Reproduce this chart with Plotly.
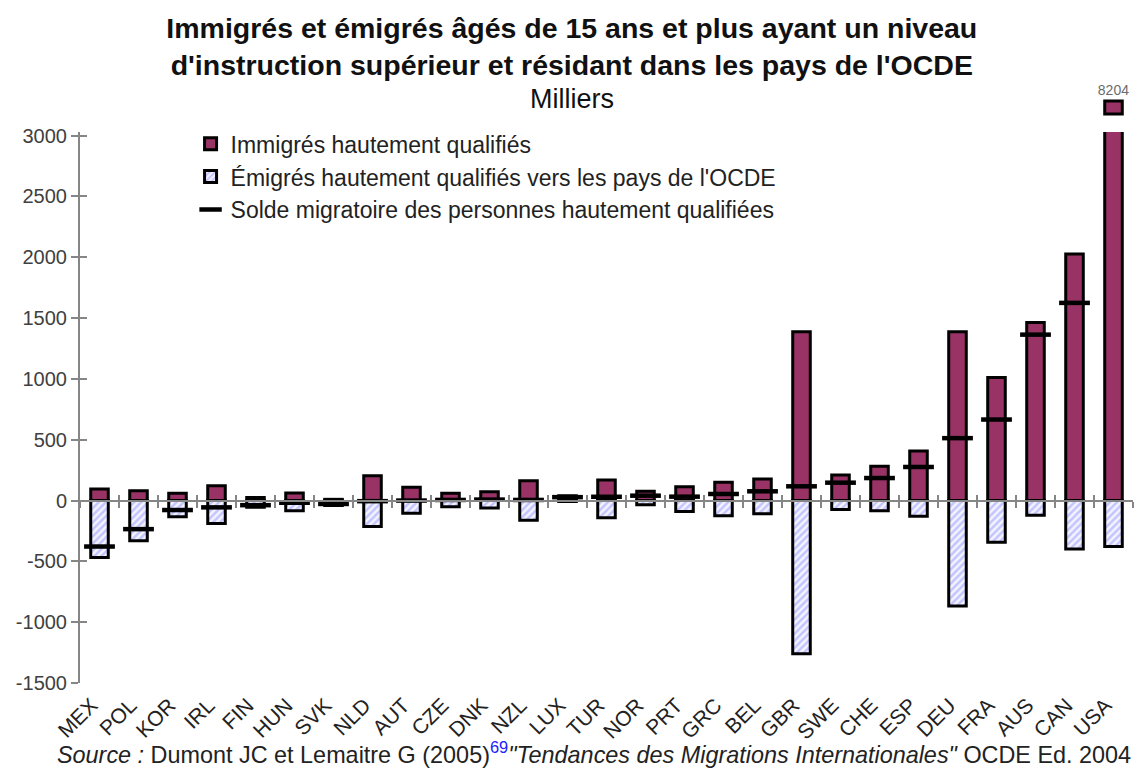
import plotly.graph_objects as go

countries = ["MEX", "POL", "KOR", "IRL", "FIN", "HUN", "SVK", "NLD", "AUT", "CZE", "DNK", "NZL", "LUX",
             "TUR", "NOR", "PRT", "GRC", "BEL", "GBR", "SWE", "CHE", "ESP", "DEU", "FRA", "AUS", "CAN", "USA"]
immigrants = [95, 81, 59, 122, 25, 62, 10, 204, 110, 60, 73, 163, 40,
              169, 76, 114, 150, 177, 1387, 210, 282, 408, 1387, 1012, 1463, 2027, 8204]
emigrants = [-468, -331, -133, -188, -55, -84, -40, -213, -105, -51, -62, -161, -8,
             -142, -34, -89, -125, -109, -1260, -73, -84, -130, -867, -342, -120, -399, -377]
net = [-378, -235, -78, -56, -38, -18, -28, -5, 0, 5, 8, 5, 28,
       31, 40, 32, 54, 76, 117, 147, 185, 276, 513, 666, 1364, 1625, 7827]
y_ticks = [3000, 2500, 2000, 1500, 1000, 500, 0, -500, -1000, -1500]

Y_MIN, Y_MAX = -1500, 3030
BREAK_BASE = 8100  # lower edge of the broken-axis stub drawn for the USA bar

FONT = "Liberation Sans"
PLUM = "#993366"
AXIS_GREY = "#868686"

W, H = 1139, 772
M_L, M_R, M_T, M_B = 80, 6, 80, 89
plot_h = H - M_T - M_B
main_top = (H - M_B - 132) / plot_h
zero_pos = main_top * (0 - Y_MIN) / (Y_MAX - Y_MIN)
stub_dom = [(H - M_B - 116) / plot_h, (H - M_B - 99) / plot_h]


def py(pix):
    """page pixel row -> paper y"""
    return (H - M_B - pix) / plot_h


fig = go.Figure()

fig.add_trace(go.Bar(
    x=countries, y=immigrants, name="Immigrés hautement qualifiés",
    width=0.45, marker=dict(color=PLUM, line=dict(color="black", width=3)),
    xaxis="x", yaxis="y"))
fig.add_trace(go.Bar(
    x=countries, y=emigrants, name="Émigrés hautement qualifiés vers les pays de l'OCDE",
    width=0.45,
    marker=dict(color="white", line=dict(color="black", width=3),
                pattern=dict(shape="/", fgcolor="#9494ff", bgcolor="#f4f4ff", size=5, solidity=0.5)),
    xaxis="x", yaxis="y"))
fig.add_trace(go.Scatter(
    x=countries, y=net, name="Solde migratoire des personnes hautement qualifiées",
    mode="markers",
    marker=dict(symbol="line-ew", size=22, color="black", line=dict(color="black", width=4.5)),
    xaxis="x", yaxis="y"))

# Broken-axis stub showing the top of the USA bar
fig.add_trace(go.Bar(
    x=[countries[-1]], y=[immigrants[-1] - BREAK_BASE], base=[BREAK_BASE],
    width=0.45, marker=dict(color=PLUM, line=dict(color="black", width=3)),
    text=[str(immigrants[-1])], textposition="outside", cliponaxis=False,
    constraintext="none",
    textfont=dict(family=FONT, size=14, color="#6b6b6b"),
    showlegend=False, xaxis="x", yaxis="y2"))

fig.update_layout(
    width=W, height=H,
    margin=dict(l=M_L, r=M_R, t=M_T, b=M_B),
    paper_bgcolor="white", plot_bgcolor="white",
    barmode="relative",
    font=dict(family=FONT, color="#333333"),
    title=dict(
        text="<b>Immigrés et émigrés âgés de 15 ans et plus ayant un niveau<br>"
             "d'instruction supérieur et résidant dans les pays de l'OCDE</b>",
        x=0.502, xref="container", xanchor="center",
        y=0.951, yref="container", yanchor="top",
        font=dict(family=FONT, size=28.5, color="#111111")),
    showlegend=True,
    legend=dict(x=0.105, xanchor="left", y=0.93, yanchor="top",
                bgcolor="rgba(0,0,0,0)", font=dict(family=FONT, size=23, color="#222222"),
                tracegroupgap=0, itemwidth=30),
    xaxis=dict(type="category", range=[-0.5, 26.5], anchor="y", showline=False, ticks="",
               tickangle=-45, tickfont=dict(family=FONT, size=21, color="#222222"),
               ticklabelshift=-8, ticklabelstandoff=5,
               showgrid=False, zeroline=False, automargin=False),
    xaxis2=dict(overlaying="x", range=[-0.5, 26.5], anchor="free", position=zero_pos,
                showline=True, linecolor=AXIS_GREY, linewidth=2,
                tickvals=[i - 0.5 for i in range(len(countries) + 1)],
                ticks="outside", ticklen=6, tickwidth=2, tickcolor=AXIS_GREY,
                showticklabels=False, showgrid=False, zeroline=False),
    xaxis3=dict(overlaying="x", range=[-0.5, 26.5], anchor="free", position=zero_pos,
                showline=False,
                tickvals=[i - 0.5 for i in range(len(countries) + 1)],
                ticks="inside", ticklen=6, tickwidth=2, tickcolor=AXIS_GREY,
                showticklabels=False, showgrid=False, zeroline=False),
    yaxis=dict(domain=[0, main_top], range=[Y_MIN, Y_MAX], anchor="x",
               tickvals=y_ticks, ticktext=[str(v) for v in y_ticks],
               ticks="outside", ticklen=7, tickwidth=2, tickcolor=AXIS_GREY,
               showline=True, linecolor=AXIS_GREY, linewidth=2,
               tickfont=dict(family=FONT, size=20, color="#404040"),
               showgrid=False, zeroline=False, automargin=False),
    yaxis3=dict(overlaying="y", range=[Y_MIN, Y_MAX], anchor="x",
                tickvals=y_ticks, ticks="inside", ticklen=7, tickwidth=2, tickcolor=AXIS_GREY,
                showticklabels=False, showline=False, showgrid=False, zeroline=False),
    yaxis2=dict(domain=stub_dom, range=[BREAK_BASE - 17, BREAK_BASE + 121], anchor="x",
                visible=False, showgrid=False, zeroline=False),
)

# invisible helper traces so overlay axes are drawn
fig.add_trace(go.Scatter(x=[0], y=[0], xaxis="x2", yaxis="y", mode="markers",
                         marker=dict(opacity=0), showlegend=False, hoverinfo="skip"))
fig.add_trace(go.Scatter(x=[0], y=[0], xaxis="x3", yaxis="y3", mode="markers",
                         marker=dict(opacity=0), showlegend=False, hoverinfo="skip"))

# subtitle
fig.add_annotation(
    text="Milliers", xref="paper", yref="paper",
    x=(572 - M_L) / (W - M_L - M_R), xanchor="center",
    y=py(99), yanchor="middle", showarrow=False,
    font=dict(family=FONT, size=27, color="#111111"))

fig.add_annotation(
    text="<i>Source :</i> Dumont JC et Lemaitre G (2005)"
         "<span style='color:#2020ff'><sup>69</sup></span>"
         "<i>\"Tendances des Migrations Internationales\"</i> OCDE Ed. 2004",
    xref="paper", yref="paper", x=(55 - M_L) / (W - M_L - M_R), xanchor="left",
    y=py(753), yanchor="middle", showarrow=False,
    font=dict(family=FONT, size=23.4, color="#222222"))

fig.write_html("out.html", config={"displayModeBar": False},
               post_script="document.body.style.margin='0';")
